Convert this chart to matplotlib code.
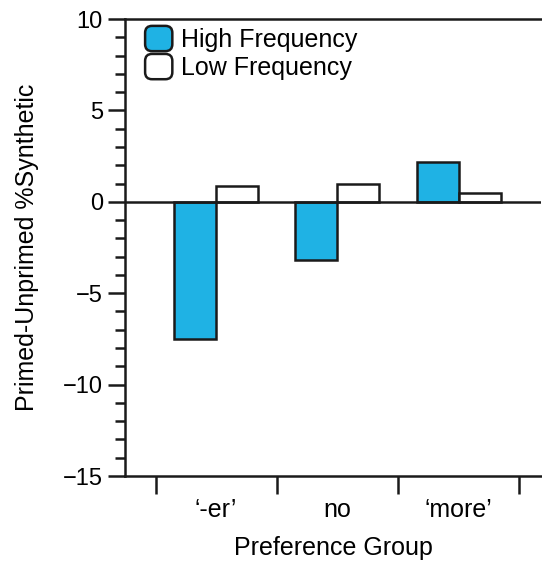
import matplotlib
matplotlib.use("Agg")
import matplotlib.pyplot as plt
import numpy as np
from matplotlib.patches import FancyBboxPatch
from matplotlib.legend_handler import HandlerPatch
from matplotlib.ticker import MultipleLocator

# data
groups = ["\u2018-er\u2019", "no", "\u2018more\u2019"]
high_freq = [-7.5, -3.2, 2.2]
low_freq = [0.85, 1.0, 0.5]

plt.rcParams['font.family'] = ['Liberation Sans', 'DejaVu Sans']
BLUE = '#1fb2e4'


class RoundBoxHandler(HandlerPatch):
    """圆角方块图例"""
    def create_artists(self, legend, orig_handle, xdescent, ydescent,
                       width, height, fontsize, trans):
        p = FancyBboxPatch((-xdescent + 1, -ydescent + 1), width - 2, height - 2,
                           boxstyle="round,pad=0,rounding_size=5",
                           facecolor=orig_handle.get_facecolor(),
                           edgecolor='#1a1a1a', linewidth=1.8, transform=trans)
        return [p]


fig = plt.figure(figsize=(5.42, 5.63), dpi=100)
ax = fig.add_axes([125 / 542, 1 - 476 / 563, 416 / 542, 457 / 563])

x = np.arange(len(groups))
w = 0.347
b1 = ax.bar(x - w / 2, high_freq, w, color=BLUE, edgecolor='#1a1a1a', linewidth=1.8,
            label='High Frequency', zorder=2)
b2 = ax.bar(x + w / 2, low_freq, w, color='white', edgecolor='#1a1a1a', linewidth=1.8,
            label='Low Frequency', zorder=2)
ax.axhline(0, color='#1a1a1a', linewidth=1.8, zorder=3)

ax.set_ylim(-15, 10)
ax.set_xlim(-0.752, 2.68)
ax.yaxis.set_minor_locator(MultipleLocator(1))
ax.set_yticks([-15, -10, -5, 0, 5, 10])
ax.set_yticklabels(['\u221215', '\u221210', '\u22125', '0', '5', '10'])
ax.tick_params(axis='y', which='major', length=12, width=1.8, labelsize=17, pad=4, color='#1a1a1a')
ax.tick_params(axis='y', which='minor', length=7, width=1.8, color='#1a1a1a')

# 组间刻度在下方, 标签放在组中心
ax.set_xticks([-0.5, 0.5, 1.5, 2.5])
ax.set_xticklabels([])
ax.tick_params(axis='x', which='major', length=13, width=1.8, color='#1a1a1a')
ax.set_xticks(x, minor=True)
ax.set_xticklabels(groups, minor=True)
ax.tick_params(axis='x', which='minor', length=0, labelsize=18, pad=16)

for s in ['left', 'bottom', 'top']:
    ax.spines[s].set_linewidth(1.8)
    ax.spines[s].set_color('#1a1a1a')
ax.spines['right'].set_visible(False)

ax.set_xlabel('Preference Group', fontsize=18, labelpad=10)
ax.set_ylabel('Primed-Unprimed %Synthetic', fontsize=18, labelpad=17)

h1, h2 = b1.patches[0], b2.patches[0]
ax.legend([h1, h2], ['High Frequency', 'Low Frequency'], loc='upper left',
          frameon=False, fontsize=18,
          handler_map={h1: RoundBoxHandler(), h2: RoundBoxHandler()},
          handlelength=1.2, handleheight=1.35, handletextpad=0.3,
          labelspacing=0.0, borderpad=0, borderaxespad=0,
          bbox_to_anchor=(0.045, 0.988))

fig.savefig('out.png', dpi=100)
